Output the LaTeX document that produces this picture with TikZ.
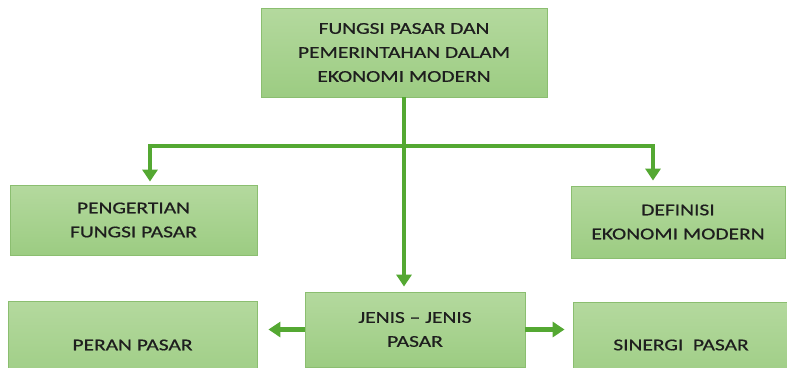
\documentclass[tikz,border=0pt]{standalone}
\usepackage{fontspec}
\setmainfont{Carlito}[FakeStretch=1.3,FakeBold=0.7]
\usepackage{tikz}
\usetikzlibrary{arrows.meta}

\definecolor{boxtop}{RGB}{180,217,158}
\definecolor{boxbot}{RGB}{156,204,130}
\definecolor{boxline}{RGB}{139,190,112}
\definecolor{linkgreen}{RGB}{84,168,50}
\definecolor{textdark}{RGB}{30,30,30}

\begin{document}
\begin{tikzpicture}[x=1pt,y=-1pt,>={Triangle[width=15pt,length=12pt]}]
\tikzstyle{box}=[draw=boxline,line width=0.8pt,top color=boxtop,bottom color=boxbot,
  align=center,text=textdark,inner sep=0pt,font=\fontsize{16.5}{24}\selectfont]
\tikzstyle{link}=[draw=linkgreen,line width=4.5pt,->]
\useasboundingbox (0,0) rectangle (787,367);
\clip (0,0) rectangle (787,367);

% boxes
\node[box,minimum width=286pt,minimum height=89pt] (fungsi) at (404,52.5)
  {FUNGSI PASAR DAN\\PEMERINTAHAN DALAM\\EKONOMI MODERN};
\node[box,minimum width=247pt,minimum height=70pt] (pengertian) at (133.5,220)
  {PENGERTIAN\\FUNGSI PASAR};
\node[box,minimum width=214pt,minimum height=72pt] (definisi) at (678,222)
  {DEFINISI\\EKONOMI MODERN};
\node[box,minimum width=220pt,minimum height=75pt] (jenis) at (415,329.5)
  {JENIS -- JENIS\\PASAR};
\node[box,minimum width=249pt,minimum height=88pt] (peran) at (132.5,345)
  {PERAN PASAR};
\node[box,minimum width=216pt,minimum height=86pt] (sinergi) at (681,345)
  {SINERGI\ \ PASAR};

% connectors
\coordinate (branch) at (404,146);
\draw[link,shorten >=5pt] (fungsi.south) -- (fungsi.south |- jenis.north);
\draw[link,shorten >=3pt] (branch) -| ([xshift=16.5pt]pengertian.north);
\draw[link,shorten >=5pt] (branch) -| ([xshift=-25pt]definisi.north);
\draw[link,shorten >=11pt] (jenis.west) -- (jenis.west -| peran.east);
\draw[link,shorten >=8pt] (jenis.east) -- (jenis.east -| sinergi.west);
\end{tikzpicture}
\end{document}
